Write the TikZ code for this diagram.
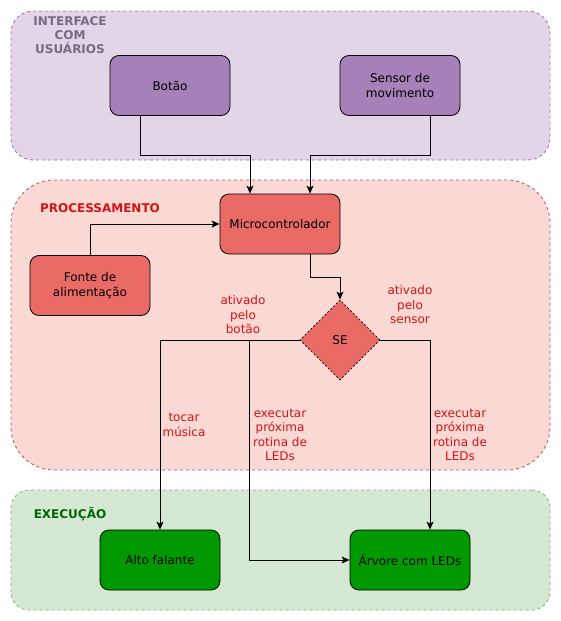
\documentclass[tikz,border=0pt]{standalone}
\usepackage{fontspec}
\setmainfont{DejaVu Sans}
\usetikzlibrary{shapes.geometric,arrows.meta}

\definecolor{roxofundo}{HTML}{E1D5E7}
\definecolor{roxoborda}{HTML}{9673A6}
\definecolor{roxotitulo}{HTML}{7A6A82}
\definecolor{roxocaixa}{HTML}{A680B8}
\definecolor{vermfundo}{HTML}{FAD9D5}
\definecolor{vermborda}{HTML}{B85450}
\definecolor{vermcaixa}{HTML}{EA6B66}
\definecolor{vermtexto}{HTML}{D21414}
\definecolor{verdefundo}{HTML}{D5E8D4}
\definecolor{verdeborda}{HTML}{82B366}
\definecolor{verdecaixa}{HTML}{009900}
\definecolor{verdetitulo}{HTML}{006600}

\newcommand{\larg}[0] {539pt}

\tikzset{
  grupo/.style={draw=#1, line width=0.8pt, dash pattern=on 3pt off 3pt, minimum width=\larg, inner sep=0pt},
  caixa/.style={draw=black, line width=0.8pt, rounded corners=9pt, minimum width=120pt, minimum height=60pt, align=center, inner sep=2pt},
  titulo/.style={font=\fontsize{12}{14.3}\selectfont\bfseries, align=center},
  rotulo/.style={text=vermtexto, align=center},
  seta/.style={->, line width=0.8pt, >={Stealth[length=8pt,width=7pt,inset=2pt]}}
}

\begin{document}
\begin{tikzpicture}[x=1pt, y=-1pt, font=\fontsize{12}{14.5}\selectfont]
        \useasboundingbox (0,0) rectangle (561,621);

        %containers
        \node[grupo=roxoborda, fill=roxofundo, rounded corners=22pt, minimum height=149pt] (iface) at (280.5,85.5) {};
        \node[grupo=vermborda, fill=vermfundo, rounded corners=43pt, minimum height=290pt] (proc) at (280.5,325) {};
        \node[grupo=verdeborda, fill=verdefundo, rounded corners=18pt, minimum height=120pt] (exec) at (280.5,550) {};

        \node[titulo, text=roxotitulo] (tiface) at (70,35) {INTERFACE\\COM\\USUÁRIOS};
        \node[titulo, text=vermtexto] (tproc) at (100,208) {PROCESSAMENTO};
        \node[titulo, text=verdetitulo] (texec) at (70,514) {EXECUÇÃO};

        %blocks
        \node[caixa, fill=roxocaixa] (botao) at (170,85.5) {Botão};
        \node[caixa, fill=roxocaixa] (sensor) at (400,85.5) {Sensor de\\movimento};
        \node[caixa, fill=vermcaixa] (micro) at (280,224) {Microcontrolador};
        \node[caixa, fill=vermcaixa] (fonte) at (90,285.5) {Fonte de\\alimentação};
        \node[shape=diamond, draw=black, line width=0.8pt, dash pattern=on 2pt off 2pt, fill=vermcaixa, minimum width=80pt, minimum height=80pt, inner sep=0pt] (se) at (340,340) {SE};
        \node[caixa, fill=verdecaixa] (alto) at (160,560) {Alto falante};
        \node[caixa, fill=verdecaixa] (arvore) at (410,560) {Árvore com LEDs};

        %labels
        \node[rotulo] (lbotao) at (243,315) {ativado\\pelo\\botão};
        \node[rotulo] (lsensor) at (410,305) {ativado\\pelo\\sensor};
        \node[rotulo] (lmusica) at (184,425) {tocar\\música};
        \node[rotulo] (lleds) at (280,435) {executar\\próxima\\rotina de\\LEDs};
        \node[rotulo] (lleds2) at (460,435) {executar\\próxima\\rotina de\\LEDs};

        %edges between the blocks
        \draw[seta] ([xshift=-30pt]botao.south) -- ++(0,39.5) -| ([xshift=-30pt]micro.north);
        \draw[seta] ([xshift=30pt]sensor.south) -- ++(0,39.5) -| ([xshift=30pt]micro.north);
        \draw[seta] (fonte.north) |- (micro.west);
        \draw[seta] ([xshift=30pt]micro.south) -- ++(0,23) -| (se.north);
        \draw[seta] (se.west) -| (alto.north);
        \draw[seta] (se.west) -- ++(-50,0) |- (arvore.west);
        \draw[seta] (se.east) -| ([xshift=20pt]arvore.north);
\end{tikzpicture}
\end{document}
